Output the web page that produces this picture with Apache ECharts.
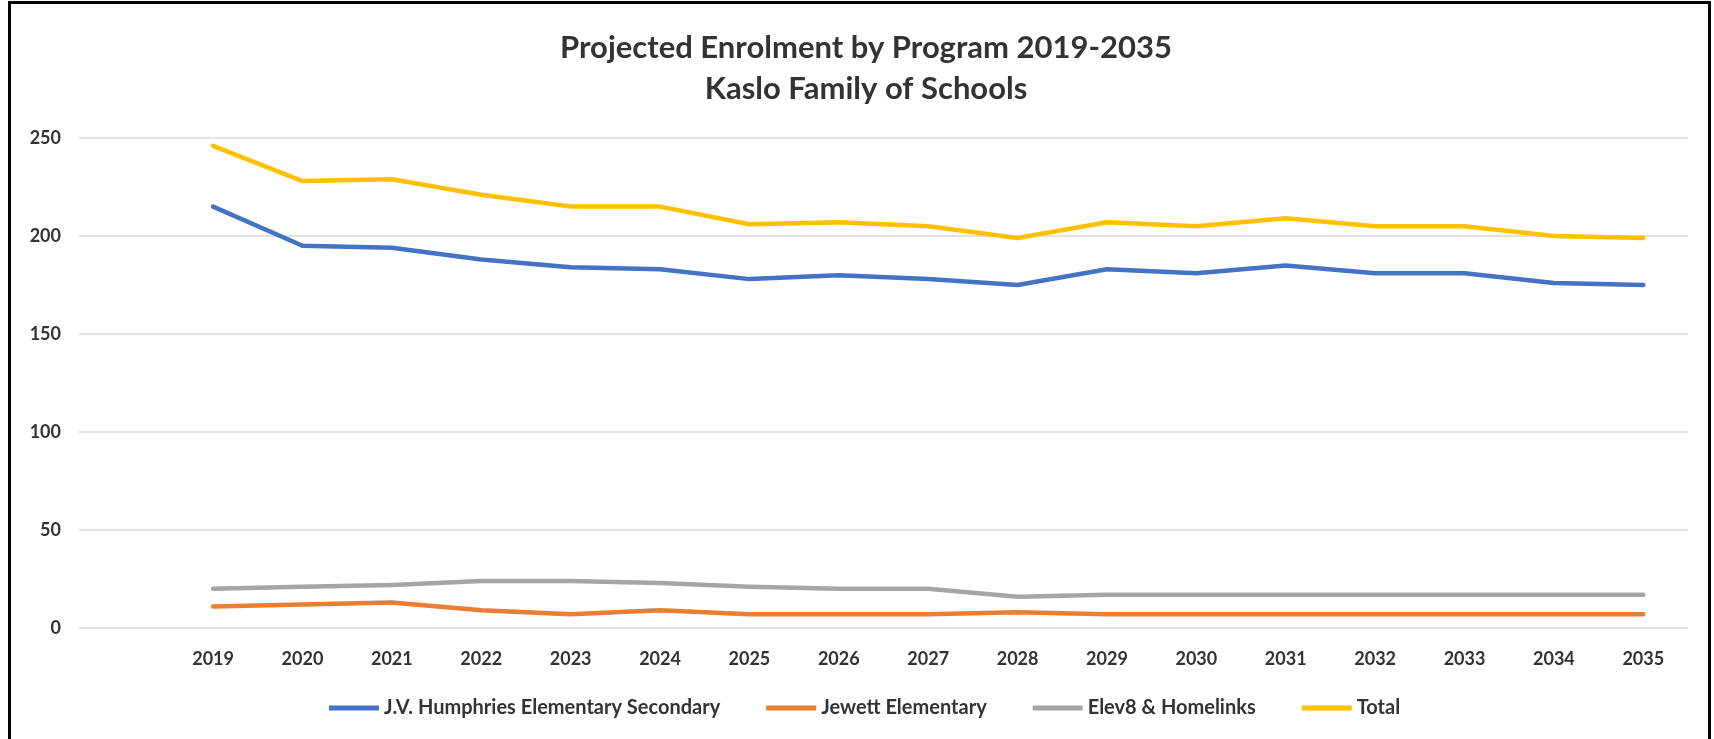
<!DOCTYPE html>
<html>
<head>
<meta charset="utf-8">
<script src="https://cdn.jsdelivr.net/npm/echarts@6/dist/echarts.min.js"></script>
<style>
  html, body { margin: 0; padding: 0; background: #fff; overflow: hidden; }
  #chart { position: absolute; left: 0; top: 0; width: 1714px; height: 739px; }
  #frame { position: absolute; left: 8px; top: 1px; width: 1697px; height: 800px;
           border: 3px solid #000; pointer-events: none; box-sizing: content-box; }
</style>
</head>
<body>
<div id="chart"></div>
<div id="frame"></div>
<script>
// ---- data ----
const years = ['2019','2020','2021','2022','2023','2024','2025','2026','2027','2028','2029','2030','2031','2032','2033','2034','2035'];
const humphries = [215, 195, 194, 188, 184, 183, 178, 180, 178, 175, 183, 181, 185, 181, 181, 176, 175];
const jewett    = [11, 12, 13, 9, 7, 9, 7, 7, 7, 8, 7, 7, 7, 7, 7, 7, 7];
const elev8     = [20, 21, 22, 24, 24, 23, 21, 20, 20, 16, 17, 17, 17, 17, 17, 17, 17];
const total     = [246, 228, 229, 221, 215, 215, 206, 207, 205, 199, 207, 205, 209, 205, 205, 200, 199];
const seriesNames = ['J.V. Humphries Elementary Secondary', 'Jewett Elementary', 'Elev8 & Homelinks', 'Total'];
const yTicks = [0, 50, 100, 150, 200, 250];

// ---- chart ----
const FONT = 'Lato, "Open Sans", sans-serif';
const TXT = '#333333';
// Excel-style blank leading category
const cats = [''].concat(years);
const withBlank = arr => [null].concat(arr);
const colors = ['#4472C4', '#ED7D31', '#A5A5A5', '#FFC000'];
const dataSets = [humphries, jewett, elev8, total];

const chart = echarts.init(document.getElementById('chart'), null, { renderer: 'canvas' });
chart.setOption({
  animation: false,
  backgroundColor: 'transparent',
  title: {
    text: 'Projected Enrolment by Program 2019-2035\nKaslo Family of Schools',
    left: 861, top: 22, textAlign: 'center',
    textStyle: { fontFamily: FONT, fontWeight: 'bold', fontSize: 31, lineHeight: 41, color: TXT }
  },
  legend: {
    left: 324, top: 693,
    icon: 'rect', itemWidth: 50, itemHeight: 5, itemGap: 46,
    data: seriesNames,
    textStyle: { fontFamily: FONT, fontWeight: 'bold', fontSize: 20, color: TXT }
  },
  grid: { left: 79, right: 26, top: 138, bottom: 111, containLabel: false },
  xAxis: {
    type: 'category', data: cats, boundaryGap: true,
    axisLine: { show: false }, axisTick: { show: false },
    axisLabel: { margin: 22, fontFamily: FONT, fontWeight: 'bold', fontSize: 18, color: TXT, interval: 0 }
  },
  yAxis: {
    type: 'value', min: yTicks[0], max: yTicks[yTicks.length - 1], interval: 50,
    axisLine: { show: false }, axisTick: { show: false },
    splitLine: { lineStyle: { color: '#d9d9d9', width: 1.5 } },
    axisLabel: { margin: 18, fontFamily: FONT, fontWeight: 'bold', fontSize: 18, color: TXT }
  },
  series: seriesNames.map((name, i) => ({
    name, type: 'line', data: withBlank(dataSets[i]),
    symbol: 'none', smooth: false,
    itemStyle: { color: colors[i] },
    lineStyle: { color: colors[i], width: 4.5, cap: 'round', join: 'round' }
  }))
});
</script>
</body>
</html>
